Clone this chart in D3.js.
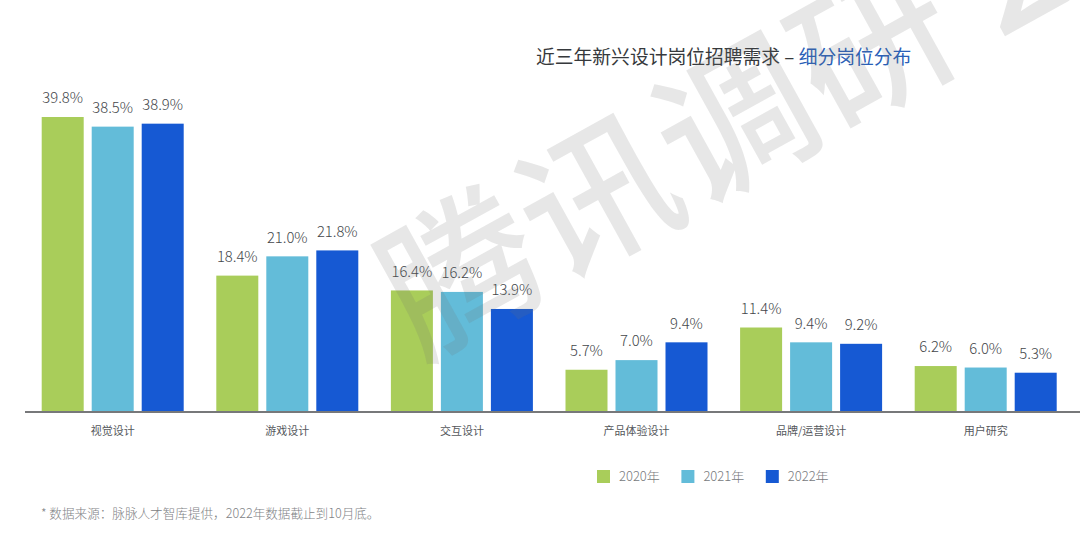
<!DOCTYPE html>
<html>
<head>
<meta charset="utf-8">
<script src="https://cdn.jsdelivr.net/npm/d3@7"></script>
<style>
html, body { margin: 0; padding: 0; background: #fff; overflow: hidden; }
text { font-family: "Noto Sans CJK SC", "Noto Sans", sans-serif; }
.domain { stroke: #77787a; stroke-width: 2px; }
</style>
</head>
<body>
<div id="my_dataviz"></div>
<script>
var categories = ["视觉设计", "游戏设计", "交互设计", "产品体验设计", "品牌/运营设计", "用户研究"];
var years = ["2020年", "2021年", "2022年"];
var values2020 = [39.8, 18.4, 16.4, 5.7, 11.4, 6.2];
var values2021 = [38.5, 21.0, 16.2, 7.0, 9.4, 6.0];
var values2022 = [38.9, 21.8, 13.9, 9.4, 9.2, 5.3];
var colors = ["#a9cd5a", "#63bcd9", "#1659d3"];
var watermark = ["腾", "讯", "调", "研", "2"];

var width = 1080, height = 533;
var baseline = 412;
var series = [values2020, values2021, values2022];

var svg = d3.select("#my_dataviz")
    .append("svg")
    .attr("width", width)
    .attr("height", height)
    .style("display", "block");

// 39.8 sits at y=117, baseline at y=412
var y = d3.scaleLinear().domain([0, 39.8]).range([baseline, 117]);
var x = d3.scaleBand().domain(categories).range([25.4, 1073]);
var x1 = d3.scaleBand().domain(years).range([16.3, 158.3]).paddingInner(0.16);

var groups = svg.append("g")
    .selectAll("g")
    .data(categories)
    .enter()
    .append("g")
    .attr("transform", function (d) { return "translate(" + x(d) + ",0)"; });

years.forEach(function (year, s) {
    groups.append("rect")
        .attr("x", x1(year))
        .attr("y", function (d, i) { return y(series[s][i]); })
        .attr("width", x1.bandwidth())
        .attr("height", function (d, i) { return baseline - y(series[s][i]); })
        .attr("fill", colors[s]);

    groups.append("text")
        .attr("x", x1(year) + x1.bandwidth() / 2)
        .attr("y", function (d, i) { return y(series[s][i]) - 19; })
        .attr("dy", "0.35em")
        .attr("text-anchor", "middle")
        .attr("font-size", 14.8)
        .attr("font-weight", 300)
        .attr("fill", "#44474b")
        .text(function (d, i) { return series[s][i].toFixed(1) + "%"; });
});

// x axis
var axis = svg.append("g")
    .attr("transform", "translate(0," + baseline + ")")
    .call(d3.axisBottom(x).tickSize(0).tickPadding(15));
axis.select(".domain").attr("d", "M25,0H1080");
axis.selectAll("text")
    .attr("font-size", 11)
    .attr("fill", "#55585c")
    .style("font-family", '"Noto Sans CJK SC", sans-serif');

// title
var title = svg.append("text")
    .attr("x", 536)
    .attr("y", 64)
    .attr("font-size", 18.8)
    .attr("font-weight", 400)
    .attr("fill", "#36393c");
title.append("tspan").text("近三年新兴设计岗位招聘需求 – ");
title.append("tspan").attr("fill", "#2a5fb8").text("细分岗位分布");

// legend
var legend = svg.append("g")
    .selectAll("g")
    .data(years)
    .enter()
    .append("g")
    .attr("transform", function (d, i) { return "translate(" + (597 + i * 84.4) + ",470)"; });
legend.append("rect")
    .attr("width", 13)
    .attr("height", 13)
    .attr("fill", function (d, i) { return colors[i]; });
legend.append("text")
    .attr("x", 22)
    .attr("y", 6.5)
    .attr("dy", "0.35em")
    .attr("font-size", 13)
    .attr("font-weight", 300)
    .attr("fill", "#77797c")
    .text(function (d) { return d; });

// source note
svg.append("text")
    .attr("x", 41)
    .attr("y", 514)
    .attr("dy", "0.35em")
    .attr("font-size", 12.6)
    .attr("font-weight", 300)
    .attr("fill", "#808285")
    .text("* 数据来源：脉脉人才智库提供，2022年数据截止到10月底。");

// watermark over everything
svg.append("g")
    .attr("transform", "translate(462,275) rotate(-29)")
    .selectAll("text")
    .data(watermark)
    .enter()
    .append("text")
    .attr("x", function (d, i) { return i * 157; })
    .attr("dy", "0.35em")
    .attr("text-anchor", "middle")
    .attr("font-size", 155)
    .attr("font-weight", 500)
    .attr("fill", "#6e6e6e")
    .attr("fill-opacity", 0.17)
    .text(function (d) { return d; });
</script>
</body>
</html>
